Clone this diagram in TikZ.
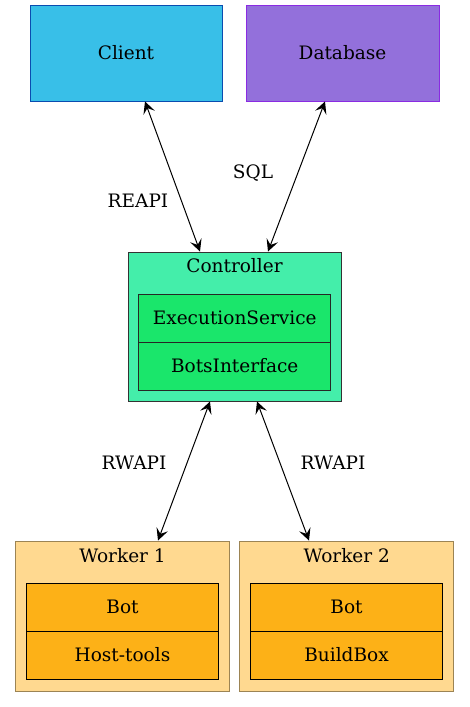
\documentclass[tikz,border=0pt]{standalone}
\usepackage{fontspec}
\setmainfont{DejaVu Serif}
\usetikzlibrary{arrows.meta}
\definecolor{clientfill}{HTML}{38BFE8}
\definecolor{clientline}{HTML}{0A4CB0}
\definecolor{dbfill}{HTML}{9370DB}
\definecolor{dbline}{HTML}{8A2BE2}
\definecolor{ctrlfill}{HTML}{44EEAA}
\definecolor{ctrlinner}{HTML}{1AE66B}
\definecolor{workfill}{HTML}{FFD990}
\definecolor{workline}{HTML}{9C8454}
\definecolor{workinner}{HTML}{FDB117}
\begin{document}
\begin{tikzpicture}[x=1pt, y=-1pt, font=\fontsize{18.5}{22}\selectfont,
  box/.style={draw, line width=1pt, rectangle, inner sep=0pt, align=center},
  part/.style={box, minimum width=192pt, minimum height=48pt},
  group/.style={box, minimum width=214pt, minimum height=150pt},
  link/.style={{Stealth[length=12pt,width=12pt,inset=5pt]}-{Stealth[length=12pt,width=12pt,inset=5pt]}, line width=1pt}]
\useasboundingbox (0,0) rectangle (469,707);
\node[box, fill=clientfill, draw=clientline, minimum width=192pt, minimum height=96pt] (client) at (126,53) {Client};
\node[box, fill=dbfill, draw=dbline, minimum width=193pt, minimum height=96pt] (db) at (342.5,53) {Database};
\node[group, fill=ctrlfill, draw=black!80, minimum width=213pt, minimum height=149pt,
  label={[name=ctrlname, anchor=center, yshift=-14pt]north:Controller}] (ctrl) at (234.5,326.5) {};
\node[part, fill=ctrlinner, draw=black!85] (exec) at (234.7,318) {ExecutionService};
\node[part, fill=ctrlinner, draw=black!85] (bots) at (234.7,366) {BotsInterface};
\node[group, fill=workfill, draw=workline, label={[name=workAname, anchor=center, yshift=-15pt]north:Worker 1}] (workA) at (122.5,616) {};
\node[part, fill=workinner] (botA) at (122.5,607) {Bot};
\node[part, fill=workinner] (toolsA) at (122.5,655) {Host-tools};
\node[group, fill=workfill, draw=workline, label={[name=workBname, anchor=center, yshift=-15pt]north:Worker 2}] (workB) at (346.7,616) {};
\node[part, fill=workinner] (botB) at (346.5,607) {Bot};
\node[part, fill=workinner] (boxB) at (346.5,655) {BuildBox};
\draw[link] ([xshift=19pt]client.south) -- ([xshift=-34.5pt]ctrl.north);
\draw[link] ([xshift=-17.5pt]db.south) -- ([xshift=33.5pt]ctrl.north);
\draw[link] ([xshift=-24.5pt]ctrl.south) -- ([xshift=35.5pt]workA.north);
\draw[link] ([xshift=22.5pt]ctrl.south) -- ([xshift=-37.7pt]workB.north);
\node (reapi) at (138,201) {REAPI};
\node (sql) at (253,173) {SQL};
\node (rwapiA) at (134,463) {RWAPI};
\node (rwapiB) at (333,463) {RWAPI};
\end{tikzpicture}
\end{document}
